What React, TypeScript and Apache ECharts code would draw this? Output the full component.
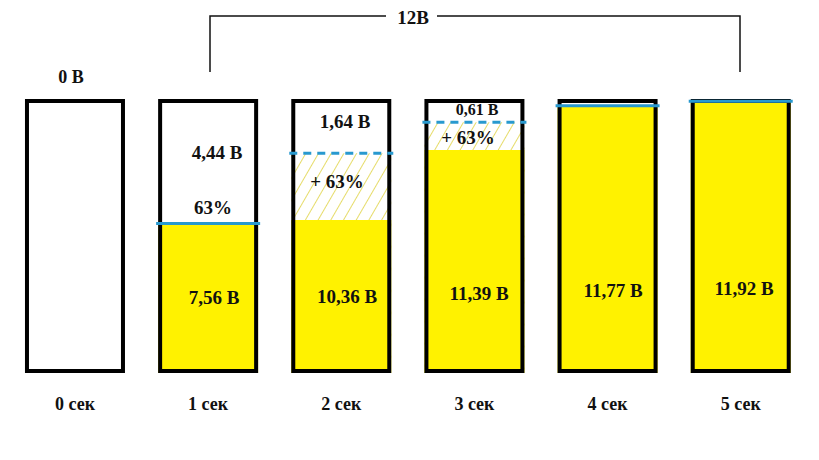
import React, { useEffect, useRef } from "react";
import * as echarts from "echarts";

// ---- data ----
const categories = ["0 сек", "1 сек", "2 сек", "3 сек", "4 сек", "5 сек"];
const supplyVoltage = 12; // full box = source voltage
const capacity = [12, 12, 12, 12, 12, 12];
// solid yellow charge level as drawn (volts on the drawing scale)
const chargedLevel = [0, 6.55, 6.7, 9.77, 11.7, 11.9];
// hatched "+63%" gain top as drawn
const gainedLevel = [0, 0, 9.62, 10.98, 0, 0];
// blue marker line level and whether it is dashed
const markerLevel: (number | null)[] = [null, 6.55, 9.62, 10.98, 11.7, 11.9];
const markerDashed = [false, false, true, true, false, false];
// texts
const chargeLabels = ["", "7,56 В", "10,36 В", "11,39 В", "11,77 В", "11,92 В"];
const remainLabels = ["0 В", "4,44 В", "1,64 В", "0,61 В", "", ""];
const percentLabels = ["", "63%", "+ 63%", "+ 63%", "", ""];
const supplyLabel = "12В";

// label placement (pixels) – layout only
const chargePos = [null, [214, 297], [347, 296], [479, 293], [613, 290], [744, 288]];
const remainPos = [[71, 77], [217, 152], [345, 121], [477, 109], null, null];
const remainSize = [18, 19, 19, 16, 19, 19];
const percentPos = [null, [213, 207], [337, 181], [468, 137], null, null];

const FONT = '"Liberation Serif", "Times New Roman", serif';

export default function App() {
  const ref = useRef<HTMLDivElement>(null);
  useEffect(() => {
    if (!ref.current) return;
    const chart = echarts.init(ref.current, undefined, { renderer: "svg" });

    const graphics: any[] = [];
    const addText = (t: string, p: any, size = 19) => {
      if (!t || !p) return;
      graphics.push({
        type: "text",
        z: 100,
        style: {
          text: t,
          x: p[0],
          y: p[1],
          textAlign: "center",
          textVerticalAlign: "middle",
          font: `bold ${size}px ${FONT}`,
          fill: "#111",
        },
      });
    };
    chargeLabels.forEach((t, i) => addText(t, chargePos[i]));
    remainLabels.forEach((t, i) => addText(t, remainPos[i], remainSize[i]));
    percentLabels.forEach((t, i) => addText(t, percentPos[i]));
    // bracket over boxes 1..5 with supply voltage
    graphics.push({
      type: "polyline",
      z: 100,
      shape: { points: [[210, 72], [210, 16], [386, 16]] },
      style: { stroke: "#111", lineWidth: 1.5, fill: "none" },
    });
    graphics.push({
      type: "polyline",
      z: 100,
      shape: { points: [[437, 16], [740, 16], [740, 72]] },
      style: { stroke: "#111", lineWidth: 1.5, fill: "none" },
    });
    addText(supplyLabel, [413, 17], 19);

    const markerData = markerLevel
      .map((v, i) => (v == null ? null : [i, v, markerDashed[i] ? 1 : 0]))
      .filter((d) => d != null);

    chart.setOption({
      animation: false,
      grid: { left: 8.4, right: 11.7, top: 99, bottom: 87 },
      xAxis: {
        type: "category",
        data: categories,
        axisLine: { show: false },
        axisTick: { show: false },
        axisLabel: {
          margin: 22,
          color: "#111",
          fontFamily: FONT,
          fontWeight: "bold",
          fontSize: 18,
        },
      },
      yAxis: {
        type: "value",
        min: 0,
        max: supplyVoltage,
        show: false,
        splitLine: { show: false },
      },
      series: [
        {
          name: "box",
          type: "bar",
          data: capacity,
          barWidth: 100,
          barGap: "-100%",
          z: 1,
          itemStyle: { color: "#ffffff" },
          silent: true,
        },
        {
          name: "gain",
          type: "bar",
          data: gainedLevel,
          barWidth: 100,
          barGap: "-100%",
          z: 2,
          itemStyle: {
            color: "#ffffff",
            decal: {
              symbol: "rect",
              symbolSize: 1,
              dashArrayX: [1, 0],
              dashArrayY: [1, 10],
              rotation: -Math.PI / 3,
              color: "#e6dc6a",
            },
          },
        },
        {
          name: "charge",
          type: "bar",
          data: chargedLevel,
          barWidth: 100,
          barGap: "-100%",
          z: 3,
          itemStyle: { color: "#fff200" },
        },
        {
          name: "frame",
          type: "bar",
          data: capacity,
          barWidth: 100,
          barGap: "-100%",
          z: 4,
          itemStyle: { color: "rgba(0,0,0,0)", borderColor: "#000", borderWidth: 4 },
        },
        {
          name: "level",
          type: "custom",
          z: 5,
          data: markerData,
          renderItem: (params: any, api: any) => {
            const c = api.coord([api.value(0), api.value(1)]);
            const dashed = api.value(2) === 1;
            return {
              type: "line",
              shape: { x1: c[0] - 52, y1: c[1], x2: c[0] + 52, y2: c[1] },
              style: {
                stroke: "#2899cf",
                lineWidth: 3,
                lineDash: dashed ? [8, 6] : null,
              },
            };
          },
        },
      ],
      graphic: graphics,
    });
    return () => chart.dispose();
  }, []);
  return (
    <div
      ref={ref}
      style={{ position: "fixed", left: 0, top: 0, width: 819, height: 460, background: "#fff" }}
    />
  );
}
